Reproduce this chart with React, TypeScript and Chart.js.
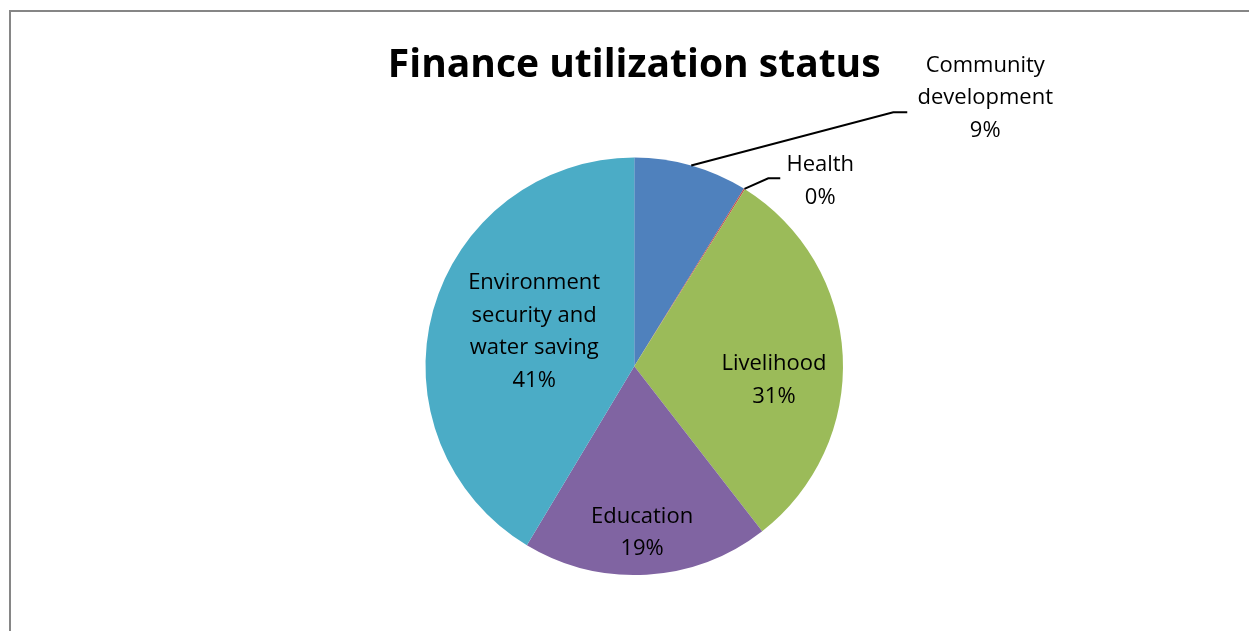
import React, { useEffect, useRef } from "react";
import { Chart, registerables } from "chart.js";

Chart.register(...registerables);

const TITLE = "Finance utilization status";
const CATEGORIES = ["Community development", "Health", "Livelihood", "Education", "Environment security and water saving"];
const LABEL_LINES = [["Community", "development"], ["Health"], ["Livelihood"], ["Education"], ["Environment", "security and", "water saving"]];
const VALUES = [8.8, 0.1, 30.6, 19.1, 41.4];
const COLORS = ["#4F81BD", "#C0504D", "#9BBB59", "#8064A2", "#4BACC6"];

// label placement (layout only)
const LABEL_LAYOUT = [
  { outside: true, dx: 351, dy: -262, elbow: [-92, 8], end: [-78, 8] },
  { outside: true, dx: 186, dy: -179, elbow: [-52, -9], end: [-40, -9] },
  { outside: false, rf: 0.67, ox: 0, oy: 27.5 },
  { outside: false, rf: 0.79, ox: -2, oy: 8 },
  { outside: false, rf: 0.51, ox: 2.5, oy: 0 },
];

const FONT = "'Open Sans', Lato, sans-serif";
const LINE_H = 32.5;

const labelPlugin = {
  id: "pieLabels",
  beforeDraw(chart: any) {
    const ctx = chart.ctx;
    ctx.save();
    ctx.fillStyle = "#ffffff";
    ctx.fillRect(0, 0, chart.width, chart.height);
    ctx.strokeStyle = "#868686";
    ctx.lineWidth = 2;
    ctx.strokeRect(10, 11, chart.width + 20, chart.height + 20);
    ctx.restore();
  },
  afterDraw(chart: any) {
    const ctx = chart.ctx;
    const meta = chart.getDatasetMeta(0);
    const total = VALUES.reduce((a, b) => a + b, 0);
    ctx.save();
    // title
    ctx.fillStyle = "#000";
    ctx.font = `bold 39px ${FONT}`;
    ctx.textAlign = "center";
    ctx.textBaseline = "alphabetic";
    const cx0 = meta.data[0].x;
    ctx.fillText(TITLE, cx0, 77);

    ctx.font = `22px ${FONT}`;
    meta.data.forEach((arc: any, i: number) => {
      const p = arc.getProps(["x", "y", "startAngle", "endAngle", "outerRadius"], true);
      const mid = (p.startAngle + p.endAngle) / 2;
      const L: any = LABEL_LAYOUT[i];
      const pct = Math.round((VALUES[i] / total) * 100) + "%";
      const lines = [...LABEL_LINES[i], pct];
      let lx: number, ly: number;
      if (L.outside) {
        lx = p.x + L.dx;
        ly = p.y + L.dy;
        const ex = p.x + p.outerRadius * Math.cos(mid);
        const ey = p.y + p.outerRadius * Math.sin(mid);
        ctx.strokeStyle = "#000";
        ctx.lineWidth = 2;
        ctx.beginPath();
        ctx.moveTo(ex, ey);
        ctx.lineTo(lx + L.elbow[0], ly + L.elbow[1] - 0);
        ctx.lineTo(lx + L.end[0], ly + L.end[1]);
        ctx.stroke();
      } else {
        lx = p.x + L.rf * p.outerRadius * Math.cos(mid) + L.ox;
        ly = p.y + L.rf * p.outerRadius * Math.sin(mid) + L.oy;
      }
      const n = lines.length;
      ctx.fillStyle = "#000";
      lines.forEach((t, k) => {
        ctx.fillText(t, lx, ly + (k - (n - 1) / 2) * LINE_H);
      });
    });
    ctx.restore();
  },
};

export default function App() {
  const ref = useRef<HTMLCanvasElement>(null);
  useEffect(() => {
    const chart = new Chart(ref.current!, {
      type: "pie",
      data: {
        labels: CATEGORIES,
        datasets: [{ data: VALUES, backgroundColor: COLORS, borderWidth: 0 }],
      },
      options: {
        animation: false,
        responsive: false,
        layout: { padding: { left: 425, right: 405.5, top: 157.5, bottom: 56 } },
        plugins: { legend: { display: false }, tooltip: { enabled: false }, title: { display: false } },
      },
      plugins: [labelPlugin],
    });
    return () => chart.destroy();
  }, []);
  return (
    <div style={{ position: "fixed", left: 0, top: 0, width: 1249, height: 631, background: "#fff" }}>
      <canvas ref={ref} width={1249} height={631} style={{ display: "block" }} />
    </div>
  );
}
